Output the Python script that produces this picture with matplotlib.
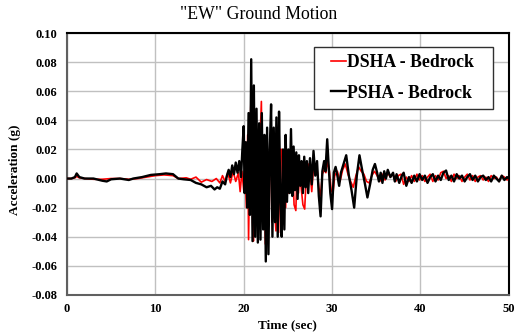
import matplotlib.pyplot as plt
from matplotlib.patches import Rectangle

# PSHA - Bedrock (black)
psha_t = [0.0, 0.5, 0.9, 1.1, 1.4, 2.0, 3.0, 4.0, 4.5, 5.0, 6.0, 7.0, 7.5, 8.5, 9.5,
          10.5, 11.2, 12.0, 12.6, 13.2, 14.0, 14.6, 15.2, 15.8, 16.3, 16.7, 17.0, 17.3,
          17.6, 17.9, 18.1, 18.3, 18.5, 18.7, 18.9, 19.1, 19.3, 19.5, 19.7, 19.85,
          20.0, 20.1, 20.25, 20.4, 20.55, 20.7, 20.85, 21.0, 21.15, 21.3, 21.45, 21.6,
          21.75, 21.9, 22.05, 22.2, 22.35, 22.5, 22.65, 22.8, 22.95, 23.1, 23.25, 23.4,
          23.55, 23.7, 23.85, 24.0, 24.15, 24.3, 24.45, 24.6, 24.75, 24.9, 25.05, 25.2,
          25.35, 25.5, 25.65, 25.8, 25.95, 26.1, 26.25, 26.4, 26.55, 26.7, 26.85, 27.0,
          27.15, 27.3, 27.5, 27.7, 27.9, 28.1, 28.3, 28.5, 28.7, 28.9, 29.1, 29.25,
          29.45, 29.6, 29.8, 30.0, 30.2, 30.4, 30.6, 30.8, 31.0, 31.3, 31.6, 31.9, 32.2,
          32.5, 32.8, 33.1, 33.4, 33.7, 34.0, 34.3, 34.6, 34.85, 35.1, 35.3, 35.5, 35.7,
          35.9, 36.1, 36.3, 36.6, 36.9, 37.1, 37.3, 37.6, 37.9, 38.1, 38.4, 38.7, 39.0,
          39.3, 39.6, 39.9, 40.2, 40.5, 40.8, 41.1, 41.4, 41.7, 42.0, 42.3, 42.6, 42.9,
          43.2, 43.5, 43.8, 44.1, 44.4, 44.7, 45.0, 45.3, 45.6, 45.9, 46.2, 46.5, 46.8,
          47.1, 47.4, 47.7, 48.0, 48.3, 48.6, 48.9, 49.2, 49.5, 49.8, 50.0]
psha_a = [0.0, 0.0, 0.001, 0.0035, 0.001, 0.0, 0.0, -0.0015, -0.002, -0.0005, 0.0, -0.001,
          0.0, 0.001, 0.0025, 0.003, 0.0035, 0.003, 0.0, -0.0005, -0.001, -0.003, -0.004,
          -0.006, -0.005, -0.0075, -0.006, -0.007, -0.002, -0.004, 0.002, 0.006, 0.001,
          0.009, 0.003, 0.011, 0.004, 0.012, 0.001, 0.02,
          0.036, -0.01, 0.025, -0.02, 0.045, -0.025, 0.082, -0.043, 0.064, -0.04, 0.048,
          -0.044, 0.038, -0.042, 0.045, -0.035, 0.03, -0.057, 0.035, -0.052, 0.02, 0.051,
          -0.04, 0.035, -0.03, 0.042, -0.04, 0.046, -0.015, -0.04, 0.02, -0.035, 0.03,
          -0.016, 0.02, -0.01, 0.034, -0.012, 0.022, -0.008, 0.018, -0.014, 0.016, -0.005,
          0.012, -0.01, 0.015, -0.006, 0.012, -0.01, 0.014, -0.004, 0.019, 0.002, 0.012,
          -0.012, -0.026, 0.005, 0.012, 0.005, 0.027, 0.01, -0.01, -0.021, 0.004, 0.008,
          0.002, -0.005, 0.004, 0.01, 0.016, 0.002, -0.008, -0.02, 0.002, 0.016, 0.006,
          -0.003, -0.013, -0.004, 0.006, 0.01, 0.004, -0.002, 0.004, -0.003, 0.005, 0.0,
          0.006, 0.001, 0.004, -0.002, 0.003, -0.003, 0.002, 0.004, -0.005, 0.001, -0.003,
          0.002, -0.002, 0.003, -0.001, 0.002, -0.003, 0.001, 0.003, -0.002, 0.002, -0.001,
          0.004, 0.0055, -0.001, 0.002, -0.002, 0.003, 0.0, 0.002, -0.002, 0.001, 0.003,
          -0.001, 0.002, -0.002, 0.001, 0.002, -0.001, 0.001, -0.002, 0.002, 0.0,
          -0.002, 0.002, -0.001, 0.001, 0.0]

# DSHA - Bedrock (red)
dsha_t = [0.0, 0.5, 0.9, 1.1, 1.4, 2.0, 3.0, 4.0, 5.0, 6.0, 7.0, 8.0, 9.0, 10.0, 11.0,
          12.0, 12.6, 13.5, 14.0, 14.6, 15.2, 15.8, 16.4, 16.9, 17.3, 17.6, 17.9, 18.2,
          18.5, 18.8, 19.1, 19.4, 19.6, 19.8, 20.0, 20.15, 20.3, 20.45, 20.55, 20.7,
          20.85, 21.0, 21.1, 21.25, 21.4, 21.55, 21.7, 21.85, 22.0, 22.15, 22.3, 22.45,
          22.6, 22.75, 22.9, 23.05, 23.2, 23.35, 23.5, 23.65, 23.8, 23.95, 24.1, 24.3,
          24.45, 24.6, 24.75, 24.9, 25.05, 25.2, 25.35, 25.5, 25.7, 25.9, 26.05, 26.2,
          26.35, 26.5, 26.7, 26.9, 27.1, 27.3, 27.5, 27.7, 27.9, 28.1, 28.3, 28.5, 28.7,
          28.9, 29.1, 29.3, 29.5, 29.7, 29.9, 30.1, 30.3, 30.6, 30.9, 31.2, 31.5, 31.8,
          32.1, 32.4, 32.7, 33.0, 33.3, 33.6, 33.9, 34.2, 34.5, 34.8, 35.1, 35.4, 35.7,
          36.0, 36.3, 36.6, 36.9, 37.2, 37.5, 37.8, 38.1, 38.4, 38.7, 39.0, 39.3, 39.6,
          39.9, 40.2, 40.5, 40.8, 41.1, 41.4, 41.7, 42.0, 42.3, 42.6, 42.9, 43.2, 43.5,
          43.8, 44.1, 44.4, 44.7, 45.0, 45.3, 45.6, 45.9, 46.2, 46.5, 46.8, 47.1, 47.4,
          47.7, 48.0, 48.3, 48.6, 48.9, 49.2, 49.5, 49.8, 50.0]
dsha_a = [0.0, 0.0, 0.0005, 0.0015, 0.0005, 0.0, -0.0005, -0.0005, 0.0, 0.0, -0.0005,
          0.0, 0.001, 0.002, 0.0025, 0.002, 0.0, 0.0005, -0.0005, 0.001, -0.0025, -0.0007,
          -0.002, 0.0, -0.003, 0.002, -0.002, 0.004, -0.003, 0.005, -0.002, 0.004,
          -0.009, 0.005, -0.008, 0.01, -0.02, 0.03, -0.042, 0.02,
          0.063, -0.03, -0.043, 0.04, -0.02, 0.03, -0.035, 0.025, 0.053, -0.03, 0.02,
          -0.045, 0.025, -0.04, 0.01, 0.03, -0.03, 0.027, -0.02, -0.036, 0.025, -0.037,
          0.02, 0.02, -0.025, 0.015, -0.02, 0.012, -0.01, 0.018, -0.005, 0.015, -0.018,
          -0.022, 0.008, -0.01, 0.01, -0.006, -0.018, -0.021, 0.004, 0.01, 0.005, -0.009,
          0.008, 0.004, 0.007, -0.006, -0.012, 0.003, 0.006, 0.004, 0.012, 0.005, -0.008,
          -0.01, 0.002, 0.005, -0.002, 0.006, 0.01, 0.003, -0.002, -0.006, 0.002, 0.008,
          0.005, 0.003, -0.002, -0.003, 0.002, 0.005, 0.002, -0.002, 0.003, -0.001, 0.004,
          0.001, 0.003, -0.002, 0.002, 0.003, -0.004, 0.001, -0.002, 0.002, -0.002, 0.003,
          -0.001, 0.002, -0.002, 0.001, 0.003, -0.002, 0.002, -0.001, 0.004, 0.005, 0.0,
          0.002, -0.002, 0.003, 0.0, 0.002, -0.002, 0.001, 0.003, -0.001, 0.002, -0.002,
          0.001, 0.002, -0.001, 0.001, -0.002, 0.002, 0.0, 0.001, -0.002, 0.002,
          0.001, -0.001, 0.0]

x_ticks = [0, 10, 20, 30, 40, 50]
y_ticks = [-0.08, -0.06, -0.04, -0.02, 0.00, 0.02, 0.04, 0.06, 0.08, 0.10]

plt.rcParams['font.family'] = ['Liberation Serif', 'DejaVu Serif']

fig = plt.figure(figsize=(5.15, 3.34), dpi=100)
ax = fig.add_axes([0.130, 0.117, 0.858, 0.784])

ax.plot(dsha_t, dsha_a, color='#ff0000', lw=1.2, label='DSHA - Bedrock', zorder=3)
ax.plot(psha_t, psha_a, color='black', lw=1.7, label='PSHA - Bedrock', zorder=4)

ax.set_xlim(0, 50)
ax.set_ylim(-0.08, 0.10)
ax.set_xticks(x_ticks)
ax.set_yticks(y_ticks)
ax.set_xticklabels([str(v) for v in x_ticks], fontweight='bold', fontsize=9)
ax.set_yticklabels(['%.2f' % v for v in y_ticks], fontweight='bold', fontsize=9)
ax.tick_params(length=0, pad=7)
ax.tick_params(axis='x', pad=6)
ax.grid(True, color='#c0c0c0', lw=1.0)
ax.set_axisbelow(True)

for side in ['top', 'right']:
    ax.spines[side].set_color('black')
    ax.spines[side].set_linewidth(1.5)
for side in ['left', 'bottom']:
    ax.spines[side].set_color('#606060')
    ax.spines[side].set_linewidth(1.5)

ax.set_xlabel('Time (sec)', fontweight='bold', fontsize=9.5, labelpad=3)
ax.set_ylabel('Acceleration (g)', fontweight='bold', fontsize=9.5)
ax.yaxis.set_label_coords(-0.104, 0.477)
fig.text(0.502, 0.958, '"EW" Ground Motion', ha='center', va='center', fontsize=12.8)

# legend frame drawn separately so its padding can match the original
ax.add_patch(Rectangle((0.559, 0.710), 0.405, 0.237, transform=ax.transAxes,
                       facecolor='white', edgecolor='#303030', lw=1.0, zorder=5))
leg = ax.legend(loc='center left', bbox_to_anchor=(0.597, 0.829),
                prop={'weight': 'bold', 'size': 12.8}, frameon=False,
                handlelength=0.85, handletextpad=0.05, borderpad=0,
                labelspacing=0.75, borderaxespad=0)
leg.set_zorder(6)

fig.savefig('out.png', dpi=100)
